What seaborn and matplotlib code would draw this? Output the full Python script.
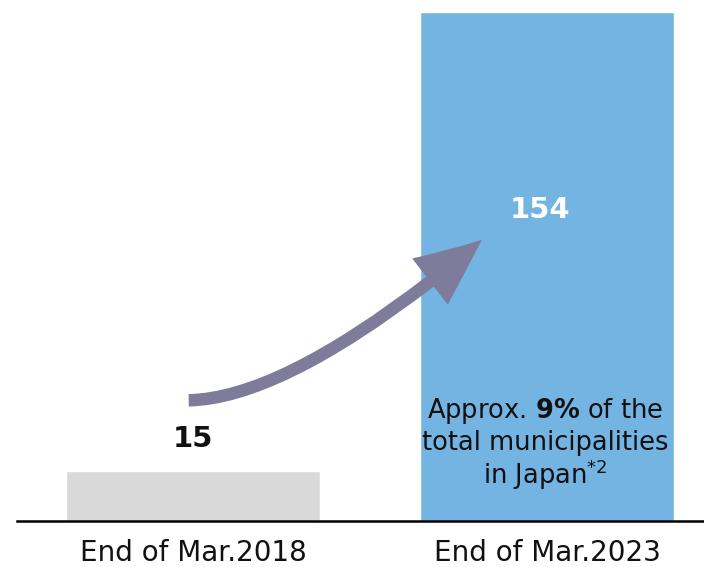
import matplotlib
matplotlib.use("Agg")
import matplotlib.pyplot as plt
import seaborn as sns
import pandas as pd

# chart data
periods = ["End of Mar.2018", "End of Mar.2023"]
counts = [15, 154]
bar_colors = ["#d9d9d9", "#74b4e3"]
note_lines = [r"Approx. $\mathbf{9\%}$ of the", "total municipalities", r"in Japan$^{\mathregular{*2}}$"]

sns.set_style("white")
plt.rcParams['font.family'] = ['DejaVu Sans']
plt.rcParams['mathtext.fontset'] = 'dejavusans'

df = pd.DataFrame({"period": periods, "count": counts})

fig = plt.figure(figsize=(7.04, 5.67), dpi=100)
ax = fig.add_axes([17 / 704, 46 / 567, 687 / 704, 521 / 567])

sns.barplot(data=df, x="period", y="count", hue="period", palette=bar_colors,
            width=0.717, legend=False, ax=ax, saturation=1)

ax.set_xlim(-0.497, 1.443)
ax.set_ylim(0, 157.6)
ax.set_xlabel("")
ax.set_ylabel("")
ax.set_yticks([])
for s in ["top", "right", "left"]:
    ax.spines[s].set_visible(False)
ax.spines["bottom"].set_linewidth(1.8)
ax.spines["bottom"].set_color("black")
ax.tick_params(axis="x", length=0, pad=13, labelsize=20, labelcolor="#111111")

# value labels
ax.text(0, counts[0] + 5.6, str(counts[0]), ha="center", va="bottom",
        fontsize=21, fontweight="bold", color="#111111")
ax.text(0.98, 94, str(counts[1]), ha="center", va="center",
        fontsize=21, fontweight="bold", color="white")

# note inside the blue bar
for i, line in enumerate(note_lines):
    ax.text(0.995, 33.3 - i * 9.7, line, ha="center", va="center",
            fontsize=18.5, color="#111111")

# growth arrow
ax.annotate("", xy=(0.822, 85.6), xytext=(-0.02, 36.5),
            arrowprops=dict(arrowstyle="simple,head_length=2.4,head_width=2.1,tail_width=0.45",
                            connectionstyle="angle3,angleA=0,angleB=40",
                            color="#7f7b9b", mutation_scale=20, lw=0))

fig.savefig("out.png", dpi=100)
